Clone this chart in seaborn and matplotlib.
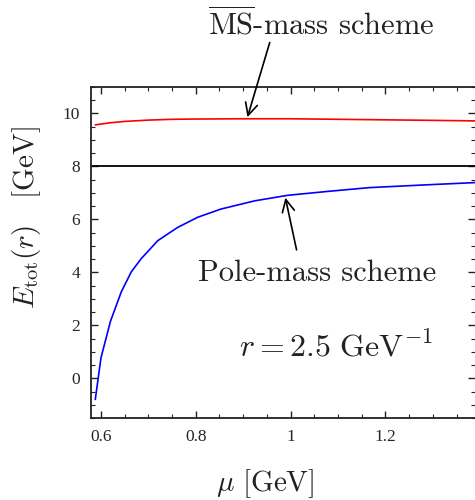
import numpy as np
import pandas as pd
import matplotlib
matplotlib.use("Agg")
import matplotlib.pyplot as plt
import seaborn as sns
from matplotlib.ticker import MultipleLocator, FixedLocator

# ---- data ----
mu_pole = [0.588, 0.600, 0.620, 0.643, 0.664, 0.685, 0.720, 0.762, 0.804, 0.853,
           0.924, 0.994, 1.080, 1.166, 1.280, 1.389]
E_pole = [-0.80, 0.77, 2.15, 3.27, 4.02, 4.52, 5.20, 5.70, 6.08, 6.39,
          6.70, 6.91, 7.06, 7.20, 7.30, 7.39]
mu_msbar = [0.588, 0.620, 0.650, 0.700, 0.750, 0.800, 0.900, 1.000, 1.100,
            1.200, 1.300, 1.389]
E_msbar = [9.57, 9.65, 9.70, 9.75, 9.78, 9.79, 9.80, 9.80, 9.78, 9.76, 9.74, 9.72]
E_ref = 8.0
x_ticks = [0.6, 0.8, 1.0, 1.2]
x_ticklabels = ["0.6", "0.8", "1", "1.2"]
y_ticks = [0, 2, 4, 6, 8, 10]

sns.set_style("ticks")
plt.rcParams["mathtext.fontset"] = "cm"
plt.rcParams["font.family"] = ["Liberation Serif", "DejaVu Serif"]

df = pd.concat([
    pd.DataFrame({"mu": mu_pole, "E": E_pole, "scheme": "pole"}),
    pd.DataFrame({"mu": mu_msbar, "E": E_msbar, "scheme": "msbar"}),
])

fig = plt.figure(figsize=(4.75, 5.0), dpi=100)
ax = fig.add_axes([0.1916, 0.164, 0.8084, 0.662])

sns.lineplot(data=df, x="mu", y="E", hue="scheme",
             palette={"pole": "#0000ff", "msbar": "#ff0000"},
             linewidth=1.2, legend=False, ax=ax, sort=False)
ax.axhline(E_ref, color="black", linewidth=1.3)

ax.set_xlim(0.579, 1.389)
ax.set_ylim(-1.5, 11.0)
ax.xaxis.set_major_locator(FixedLocator(x_ticks))
ax.set_xticklabels(x_ticklabels)
ax.yaxis.set_major_locator(FixedLocator(y_ticks))
ax.xaxis.set_minor_locator(MultipleLocator(0.05))
ax.yaxis.set_minor_locator(MultipleLocator(0.5))
ax.tick_params(which="both", direction="in", top=True, right=True,
               color="#222222", labelsize=12.5, pad=8)
ax.tick_params(which="major", length=5, width=1.0)
ax.tick_params(which="minor", length=3, width=0.8)
for s in ["left", "bottom", "top"]:
    ax.spines[s].set_linewidth(1.3)
    ax.spines[s].set_color("#222222")
ax.spines["right"].set_visible(False)

ax.set_xlabel(r"$\mu\ [\mathrm{GeV}]$", fontsize=21, color="#222222")
ax.set_ylabel(r"$E_{\mathrm{tot}}(r)\ \ \ [\mathrm{GeV}]$", fontsize=21,
              color="#222222")
ax.xaxis.set_label_coords(0.453, -0.148)
ax.yaxis.set_label_coords(-0.125, 0.607)

txt_kw = dict(family=["cmr10", "DejaVu Serif"], fontsize=22, color="#222222")
arrow_kw = dict(arrowstyle="->", color="black", lw=1.2,
                shrinkA=0, shrinkB=0, mutation_scale=22)
ax.text(1.065, 12.94, r"$\overline{\mathrm{MS}}$-mass scheme", ha="center",
        va="baseline", clip_on=False, **txt_kw)
ax.annotate("", xy=(0.909, 9.86), xytext=(0.956, 12.68), textcoords="data",
            annotation_clip=False, arrowprops=arrow_kw)
ax.text(1.055, 3.66, "Pole-mass scheme", ha="center", va="baseline",
        clip_on=False, **txt_kw)
ax.annotate("", xy=(0.989, 6.82), xytext=(1.0126, 4.85), textcoords="data",
            arrowprops=arrow_kw)
ax.text(1.095, 0.85, r"$r = 2.5\ \mathrm{GeV}^{-1}$", ha="center", va="baseline",
        fontsize=23, color="#222222")

fig.savefig("out.png", dpi=100)
